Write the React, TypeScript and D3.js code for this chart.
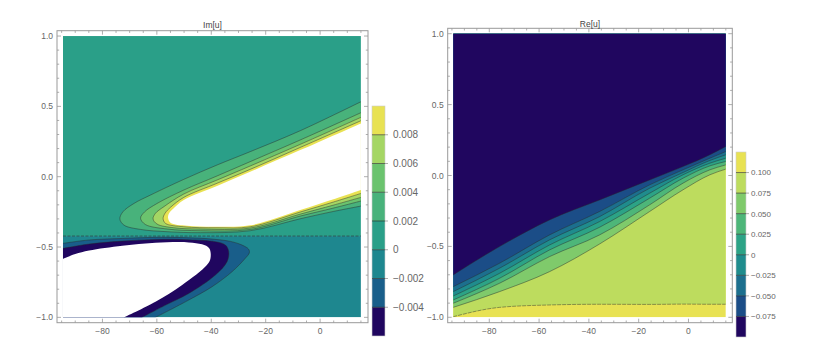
import * as d3 from "d3";

type Pt = [number, number];

const W = 817;
const H = 350;

// axes
const xTicks = [-80, -60, -40, -20, 0];
const yTicks = [-1, -0.5, 0, 0.5, 1];
const xDomain: Pt = [-94.5, 15];
const yDomain: Pt = [-1, 1];

// Im[u] panel
const imLevels = [-0.004, -0.002, 0, 0.002, 0.004, 0.006, 0.008];
const imColors = ["#20065f", "#195e8a", "#1e878f", "#2a9f88", "#48b27b", "#6bc36e", "#a5d664", "#e8e253"];
const imCut = -0.422; // branch cut (dashed)

// upper tongue, each contour from right edge -> tip -> right edge
const imTongue002: Pt[] = [[15, 0.533], [-7.3, 0.327], [-25.7, 0.178], [-37.9, 0.083], [-50.1, -0.019], [-62.3, -0.13], [-68.4, -0.19], [-72.5, -0.25], [-73.6, -0.3], [-72.1, -0.344], [-66, -0.375], [-56.2, -0.391], [-44, -0.398], [-25.7, -0.384], [-7.3, -0.299], [4.9, -0.247], [15, -0.209]];
const imTongue004: Pt[] = [[15, 0.455], [-7.3, 0.261], [-25.7, 0.107], [-37.9, 0.005], [-50.1, -0.095], [-59.9, -0.19], [-64.5, -0.25], [-66, -0.295], [-64.2, -0.34], [-56.2, -0.372], [-44, -0.384], [-25.7, -0.375], [-7.3, -0.28], [4.9, -0.223], [15, -0.173]];
const imTongue006: Pt[] = [[15, 0.422], [-7.3, 0.23], [-25.7, 0.076], [-37.9, -0.024], [-50.1, -0.123], [-57.4, -0.213], [-60.5, -0.26], [-61.4, -0.3], [-59.9, -0.337], [-53.8, -0.363], [-44, -0.372], [-25.7, -0.365], [-7.3, -0.266], [4.9, -0.202], [15, -0.147]];
const imTongue008: Pt[] = [[15, 0.398], [-7.3, 0.208], [-25.7, 0.052], [-37.9, -0.047], [-50.1, -0.147], [-55, -0.218], [-57, -0.26], [-57.7, -0.298], [-56.8, -0.332], [-50.1, -0.356], [-37.9, -0.363], [-25.7, -0.356], [-7.3, -0.251], [4.9, -0.18], [15, -0.119]];
const imTongueVoid: Pt[] = [[15, 0.379], [-7.3, 0.189], [-25.7, 0.035], [-37.9, -0.066], [-50.1, -0.166], [-53.8, -0.225], [-55.5, -0.26], [-55.9, -0.29], [-55, -0.327], [-48.9, -0.349], [-37.9, -0.356], [-25.7, -0.346], [-7.3, -0.237], [4.9, -0.161], [15, -0.095]];

// lower lobe, each contour from left edge -> tip -> bottom edge
const imLobeM002: Pt[] = [[-94.5, -0.474], [-84.9, -0.45], [-72.7, -0.439], [-60.5, -0.431], [-48.3, -0.434], [-40, -0.443], [-33, -0.46], [-28.7, -0.486], [-26.3, -0.515], [-26, -0.54], [-27.5, -0.58], [-32.4, -0.676], [-39.7, -0.782], [-48.3, -0.877], [-60.5, -1.0]];
const imLobeM004: Pt[] = [[-94.5, -0.51], [-84.9, -0.479], [-72.7, -0.458], [-60.5, -0.446], [-48.3, -0.448], [-38.5, -0.462], [-34.8, -0.486], [-33.6, -0.533], [-34.2, -0.604], [-38.5, -0.699], [-48.3, -0.83], [-56.8, -0.913], [-65.4, -1.0]];
const imLobeVoid: Pt[] = [[-94.5, -0.585], [-90, -0.55], [-84.9, -0.525], [-72.7, -0.491], [-60.5, -0.47], [-48.3, -0.467], [-43.4, -0.481], [-40.7, -0.51], [-40.3, -0.581], [-41.6, -0.628], [-50.7, -0.77], [-60.5, -0.889], [-72.1, -1.0]];

// Re[u] panel
const reLevels = [-0.075, -0.05, -0.025, 0, 0.025, 0.05, 0.075, 0.1];
const reColors = ["#20065f", "#1b4d87", "#1c6f8e", "#1f8c8d", "#2ca386", "#4db679", "#7fca6b", "#bddc5e", "#e8e253"];
const reX = [-94.5, -75.9, -55.8, -35.7, -15.6, -2.2, 8.6, 15];
const reM075 = [-0.701, -0.501, -0.313, -0.172, -0.031, 0.063, 0.146, 0.205];
const reM050 = [-0.784, -0.619, -0.419, -0.254, -0.066, 0.04, 0.122, 0.169];
const reM025 = [-0.819, -0.654, -0.454, -0.29, -0.09, 0.021, 0.106, 0.146];
const re000 = [-0.85, -0.69, -0.49, -0.325, -0.125, 0.005, 0.087, 0.122];
const reP025 = [-0.878, -0.725, -0.525, -0.365, -0.16, -0.019, 0.068, 0.099];
const reP050 = [-0.901, -0.76, -0.572, -0.419, -0.207, -0.054, 0.04, 0.075];
const reP075 = [-0.93, -0.819, -0.678, -0.483, -0.254, -0.101, 0.005, 0.045];
const reP100 = [-0.996, -0.93, -0.913, -0.908, -0.909, -0.907, -0.908, -0.908];
const reContours = [reM075, reM050, reM025, re000, reP025, reP050, reP075, reP100];

const font = "'Liberation Sans', Arial, sans-serif";
const axisGray = "#999";
const labelGray = "#666";
const lineColor = "#2b2b2b";

type Box = { l: number; t: number; r: number; b: number };

const makeScales = (f: Box) => {
  const sx = d3.scaleLinear().domain([-96.7, 17.6]).range([f.l, f.r]);
  const sy = d3.scaleLinear().domain([-1.038, 1.038]).range([f.b, f.t]);
  return { sx, sy };
};

const fmtX = d3.format(".0f");
const fmtY = d3.format(".1f");

const Frame = ({ f, title, titleY }: { f: Box; title: string; titleY: number }) => {
  const { sx, sy } = makeScales(f);
  const minorX = d3.range(-95, 16, 5).filter((v) => !xTicks.includes(v));
  const minorY = d3.range(-10, 11).map((v) => v / 10).filter((v) => !yTicks.includes(v));
  return (
    <g fontFamily={font}>
      <rect x={f.l} y={f.t} width={f.r - f.l} height={f.b - f.t} fill="none" stroke={axisGray} strokeWidth={1} />
      {[...xTicks.map((v) => [v, 4]), ...minorX.map((v) => [v, 2.2])].map(([v, len], i) => (
        <g key={"x" + i} stroke={axisGray} strokeWidth={0.8}>
          <line x1={sx(v)} x2={sx(v)} y1={f.b} y2={f.b - len} />
          <line x1={sx(v)} x2={sx(v)} y1={f.t} y2={f.t + len} />
        </g>
      ))}
      {[...yTicks.map((v) => [v, 4]), ...minorY.map((v) => [v, 2.2])].map(([v, len], i) => (
        <g key={"y" + i} stroke={axisGray} strokeWidth={0.8}>
          <line x1={f.l} x2={f.l + len} y1={sy(v)} y2={sy(v)} />
          <line x1={f.r} x2={f.r - len} y1={sy(v)} y2={sy(v)} />
        </g>
      ))}
      {xTicks.map((v) => (
        <text key={"xl" + v} x={sx(v)} y={f.b + 11} fontSize={8.5} fill={labelGray} textAnchor="middle">
          {fmtX(v)}
        </text>
      ))}
      {yTicks.map((v) => (
        <text key={"yl" + v} x={f.l - 4} y={sy(v) + 3} fontSize={8.5} fill={labelGray} textAnchor="end">
          {fmtY(v)}
        </text>
      ))}
      <text x={(f.l + f.r) / 2} y={titleY} fontSize={8.5} fill="#444" textAnchor="middle">
        {title}
      </text>
    </g>
  );
};

const Legend = ({ x, top, bottom, width, colors, levels, fontSize, gap }: { x: number; top: number; bottom: number; width: number; colors: string[]; levels: number[]; fontSize: number; gap: number }) => {
  const band = d3.scaleLinear().domain([0, colors.length]).range([bottom, top]);
  const fmt = (v: number) => (v === 0 ? "0" : d3.format(".3f")(v));
  return (
    <g fontFamily={font}>
      {colors.map((c, i) => (
        <rect key={c + i} x={x} y={band(i + 1)} width={width} height={band(i) - band(i + 1)} fill={c} />
      ))}
      <rect x={x} y={top} width={width} height={bottom - top} fill="none" stroke="#ccc" strokeWidth={0.6} />
      {levels.map((v, j) => (
        <g key={"lv" + j}>
          <line x1={x} x2={x + width} y1={band(j + 1)} y2={band(j + 1)} stroke={lineColor} strokeOpacity={0.7} strokeWidth={0.9} />
          <line x1={x + width} x2={x + width + 3} y1={band(j + 1)} y2={band(j + 1)} stroke={axisGray} strokeWidth={0.8} />
          <text x={x + width + gap} y={band(j + 1) + fontSize * 0.36} fontSize={fontSize} fill={labelGray}>
            {fmt(v)}
          </text>
        </g>
      ))}
    </g>
  );
};

const ImPanel = () => {
  const f: Box = { l: 57, t: 30.7, r: 368, b: 322.7 };
  const { sx, sy } = makeScales(f);
  const curve = d3.line<Pt>().x((d) => sx(d[0])).y((d) => sy(d[1])).curve(d3.curveCatmullRom.alpha(0.5));
  const tongue = (pts: Pt[]) =>
    `${curve(pts)}L${sx(25)},${sy(pts[pts.length - 1][1])}L${sx(25)},${sy(pts[0][1])}Z`;
  const lobe = (pts: Pt[]) =>
    `${curve(pts)}L${sx(pts[pts.length - 1][0])},${sy(-1.2)}L${sx(-110)},${sy(-1.2)}L${sx(-110)},${sy(pts[0][1])}Z`;
  const tongues: [Pt[], string][] = [
    [imTongue002, imColors[4]],
    [imTongue004, imColors[5]],
    [imTongue006, imColors[6]],
    [imTongue008, imColors[7]],
  ];
  const lobes: [Pt[], string][] = [
    [imLobeM002, imColors[1]],
    [imLobeM004, imColors[0]],
  ];
  const x0 = sx(xDomain[0]);
  const x1 = sx(xDomain[1]);
  return (
    <g>
      <defs>
        <clipPath id="clipIm">
          <rect x={x0} y={sy(yDomain[1])} width={x1 - x0} height={sy(yDomain[0]) - sy(yDomain[1])} />
        </clipPath>
      </defs>
      <g clipPath="url(#clipIm)">
        <rect x={x0} y={sy(1)} width={x1 - x0} height={sy(imCut) - sy(1)} fill={imColors[3]} />
        <rect x={x0} y={sy(imCut)} width={x1 - x0} height={sy(-1) - sy(imCut)} fill={imColors[2]} />
        {tongues.map(([pts, c], i) => (
          <path key={"t" + i} d={tongue(pts)} fill={c} />
        ))}
        <path d={tongue(imTongueVoid)} fill="#fff" />
        {lobes.map(([pts, c], i) => (
          <path key={"l" + i} d={lobe(pts)} fill={c} />
        ))}
        <path d={lobe(imLobeVoid)} fill="#fff" />
        {[...tongues, ...lobes].map(([pts], i) => (
          <path key={"c" + i} d={curve(pts) || ""} fill="none" stroke={lineColor} strokeOpacity={0.75} strokeWidth={0.6} />
        ))}
        <line x1={x0} x2={x1} y1={sy(imCut)} y2={sy(imCut)} stroke={lineColor} strokeOpacity={0.8} strokeWidth={0.7} strokeDasharray="3,1.5" />
      </g>
      <Frame f={f} title="Im[u]" titleY={28} />
      <Legend x={372} top={106} bottom={336} width={13} colors={imColors} levels={imLevels} fontSize={10} gap={8} />
    </g>
  );
};

const RePanel = () => {
  const f: Box = { l: 447.7, t: 28.3, r: 732.3, b: 322.7 };
  const { sx, sy } = makeScales(f);
  const area = d3
    .area<number>()
    .x((_, i) => sx(reX[i]))
    .y0(sy(1.1))
    .y1((d) => sy(d))
    .curve(d3.curveMonotoneX);
  const line = d3
    .line<number>()
    .x((_, i) => sx(reX[i]))
    .y((d) => sy(d))
    .curve(d3.curveMonotoneX);
  const x0 = sx(xDomain[0]);
  const x1 = sx(xDomain[1]);
  const order = d3.range(reContours.length).reverse();
  return (
    <g>
      <defs>
        <clipPath id="clipRe">
          <rect x={x0} y={sy(yDomain[1])} width={x1 - x0} height={sy(yDomain[0]) - sy(yDomain[1])} />
        </clipPath>
      </defs>
      <g clipPath="url(#clipRe)">
        <rect x={x0} y={sy(1)} width={x1 - x0} height={sy(-1) - sy(1)} fill={reColors[8]} />
        {order.map((k) => (
          <path key={"a" + k} d={area(reContours[k]) || ""} fill={reColors[k]} />
        ))}
        {order.map((k) => (
          <path
            key={"c" + k}
            d={line(reContours[k]) || ""}
            fill="none"
            stroke={lineColor}
            strokeOpacity={0.75}
            strokeWidth={0.6}
            strokeDasharray={k === 7 ? "4,1" : undefined}
          />
        ))}
      </g>
      <Frame f={f} title="Re[u]" titleY={27} />
      <Legend x={736} top={152} bottom={337} width={10} colors={reColors} levels={reLevels} fontSize={8} gap={5} />
    </g>
  );
};

const App = () => (
  <svg width={W} height={H} style={{ position: "absolute", left: 0, top: 0, background: "#fff" }}>
    <ImPanel />
    <RePanel />
  </svg>
);

export default App;
